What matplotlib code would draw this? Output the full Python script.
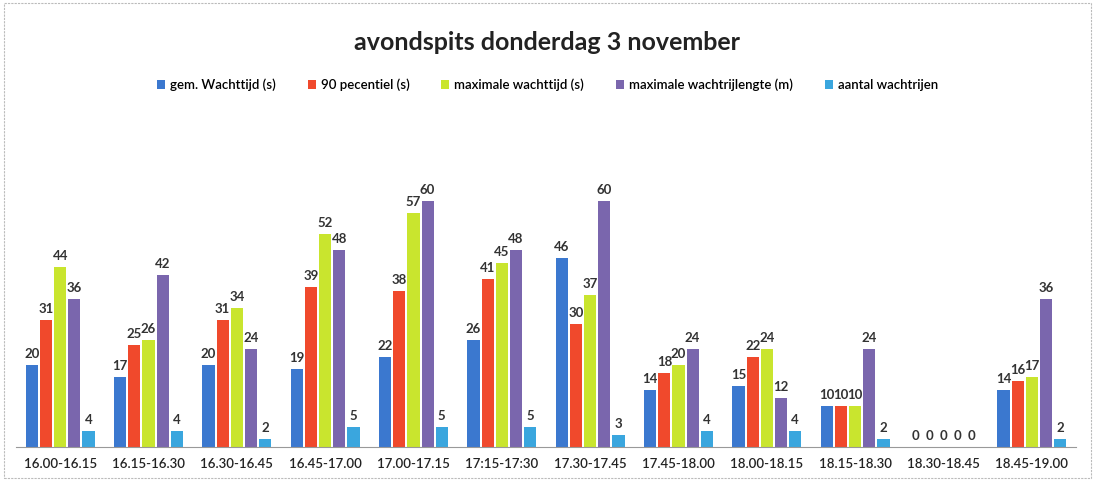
import matplotlib
matplotlib.use("Agg")
import matplotlib.pyplot as plt
import numpy as np
from matplotlib.patches import Rectangle

categories = ["16.00-16.15", "16.15-16.30", "16.30-16.45", "16.45-17.00", "17.00-17.15",
              "17:15-17:30", "17.30-17.45", "17.45-18.00", "18.00-18.15", "18.15-18.30",
              "18.30-18.45", "18.45-19.00"]
gem_wachttijd = [20, 17, 20, 19, 22, 26, 46, 14, 15, 10, 0, 14]
pecentiel_90 = [31, 25, 31, 39, 38, 41, 30, 18, 22, 10, 0, 16]
max_wachttijd = [44, 26, 34, 52, 57, 45, 37, 20, 24, 10, 0, 17]
max_wachtrijlengte = [36, 42, 24, 48, 60, 48, 60, 24, 12, 24, 0, 36]
aantal_wachtrijen = [4, 4, 2, 5, 5, 5, 3, 4, 4, 2, 0, 2]

series = [
    ("gem. Wachttijd (s)", gem_wachttijd, "#3b78cf"),
    ("90 pecentiel (s)", pecentiel_90, "#f0492c"),
    ("maximale wachttijd (s)", max_wachttijd, "#c9e52e"),
    ("maximale wachtrijlengte (m)", max_wachtrijlengte, "#7a66ad"),
    ("aantal wachtrijen", aantal_wachtrijen, "#3aa6de"),
]

plt.rcParams['font.family'] = ['Lato', 'DejaVu Sans']

fig = plt.figure(figsize=(10.95, 4.8), dpi=100)
ax = fig.add_axes([16/1095, 1 - 447/480, 1060/1095, (447 - 119)/480])

x = np.arange(len(categories))
n = len(series)
group_w = 0.8
bw = group_w / n
for i, (name, vals, col) in enumerate(series):
    pos = x - group_w/2 + bw*(i + 0.5)
    ax.bar(pos, vals, width=bw*0.86, color=col, label=name, zorder=2)
    for p, v in zip(pos, vals):
        ax.text(p, v + 1.2, str(v), ha='center', va='bottom', fontsize=9.5,
                fontweight='bold', color='#333333')

ax.set_xlim(-0.5, len(categories) - 0.5)
ax.set_ylim(0, 80)
ax.set_xticks(x)
ax.set_xticklabels(categories, fontsize=9.5, color='#222222', fontweight='semibold')
ax.tick_params(axis='x', length=0, pad=8)
ax.set_yticks([])
for s in ['top', 'right', 'left']:
    ax.spines[s].set_visible(False)
ax.spines['bottom'].set_color('#999999')
ax.spines['bottom'].set_linewidth(0.8)

fig.text(0.5, 1 - 42/480, "avondspits donderdag 3 november", ha='center', va='center',
         fontsize=18, fontweight='bold', color='#222222')

leg = fig.legend(loc='center', bbox_to_anchor=(0.5, 1 - 85/480), ncol=5, frameon=False,
                 prop={'size': 9.5, 'weight': 'semibold'}, handlelength=0.6, handleheight=0.6,
                 columnspacing=2.4, handletextpad=0.4)

fig.patches.append(Rectangle((0.004, 0.004), 0.992, 0.99, transform=fig.transFigure,
                             fill=False, edgecolor='#bbbbbb', linewidth=0.8, linestyle=(0, (2, 1))))

fig.savefig("out.png", dpi=100)
